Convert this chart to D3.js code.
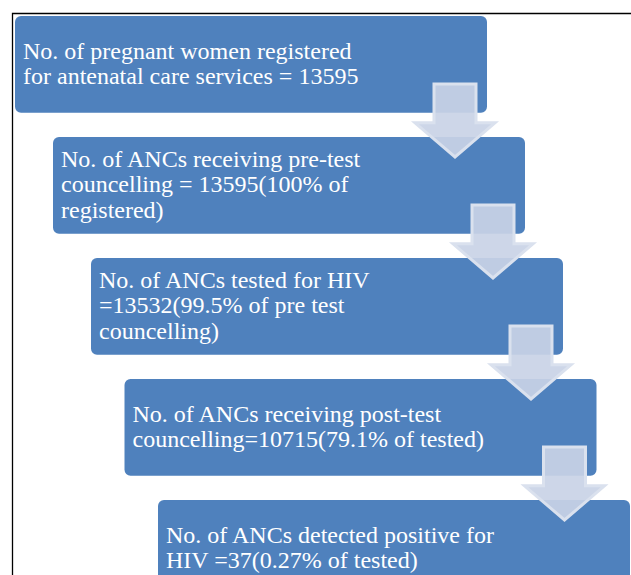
<!DOCTYPE html>
<html>
<head>
<meta charset="utf-8">
<script src="https://cdn.jsdelivr.net/npm/d3@7"></script>
<style>
  html, body { margin: 0; padding: 0; background: #fff; }
  svg { display: block; }
</style>
</head>
<body>
<div class="canvas"></div>
<script>
// flow steps, text split the way it wraps in the figure
const stepLines = [
  ['No. of pregnant women registered', 'for antenatal care services = 13595'],
  ['No. of ANCs receiving pre-test', 'councelling = 13595(100% of', 'registered)'],
  ['No. of ANCs tested for HIV', '=13532(99.5% of pre test', 'councelling)'],
  ['No. of ANCs receiving post-test', 'councelling=10715(79.1% of tested)'],
  ['No. of ANCs detected positive for', 'HIV =37(0.27% of tested)']
];
const stepIds = d3.range(stepLines.length);

const width = 631;
const height = 575;

const svg = d3
  .select('.canvas')
  .append('svg')
  .attr('width', width)
  .attr('height', height);

// frame of the figure (top + left rule)
svg
  .append('path')
  .attr('d', `M${width},13.5 H12.5 V${height}`)
  .attr('fill', 'none')
  .attr('stroke', '#000')
  .attr('stroke-width', 1.3);

const y = d3
  .scaleBand()
  .domain(stepIds)
  .range([16, 16 + 4.8 * 121])
  .paddingInner(0.2)
  .paddingOuter(0);

// staircase indent, a bit wider in the upper steps
const x = d3.scaleLinear().domain([0, 2, 4]).range([15, 91, 158]);
const boxW = 472;

const boxes = svg
  .selectAll('g.step')
  .data(stepIds)
  .enter()
  .append('g')
  .attr('class', 'step')
  .attr('transform', d => `translate(${x(d)}, ${y(d)})`);

boxes
  .append('rect')
  .attr('width', boxW)
  .attr('height', y.bandwidth())
  .attr('rx', 6)
  .attr('fill', '#4f81bd');

const lineH = 25.8;
boxes
  .append('text')
  .attr('fill', '#fff')
  .attr('font-family', '"Liberation Serif", "Times New Roman", serif')
  .attr('font-size', 24)
  .each(function (d) {
    const lines = stepLines[d];
    const first = y.bandwidth() / 2 + 7 - ((lines.length - 1) * lineH) / 2;
    d3.select(this)
      .selectAll('tspan')
      .data(lines)
      .enter()
      .append('tspan')
      .attr('x', 8)
      .attr('y', (t, i) => first + i * lineH)
      .text(t => t);
  });

// down arrows between steps
const arrow = i => {
  const cx = x(i) + 440;
  const top = y(i) + 68;
  const base = y(i) + y.bandwidth() + 10;
  const tip = y(i + 1) + 20;
  return `M${cx - 21},${top} H${cx + 21} V${base} H${cx + 40} L${cx},${tip} L${cx - 40},${base} H${cx - 21} Z`;
};

svg
  .selectAll('path.arrow')
  .data(stepIds.slice(0, -1))
  .enter()
  .append('path')
  .attr('class', 'arrow')
  .attr('d', arrow)
  .attr('fill', '#c9d3e6')
  .attr('fill-opacity', 0.92)
  .attr('stroke', '#dae1ee')
  .attr('stroke-width', 3)
  .attr('stroke-linejoin', 'miter');
</script>
</body>
</html>
